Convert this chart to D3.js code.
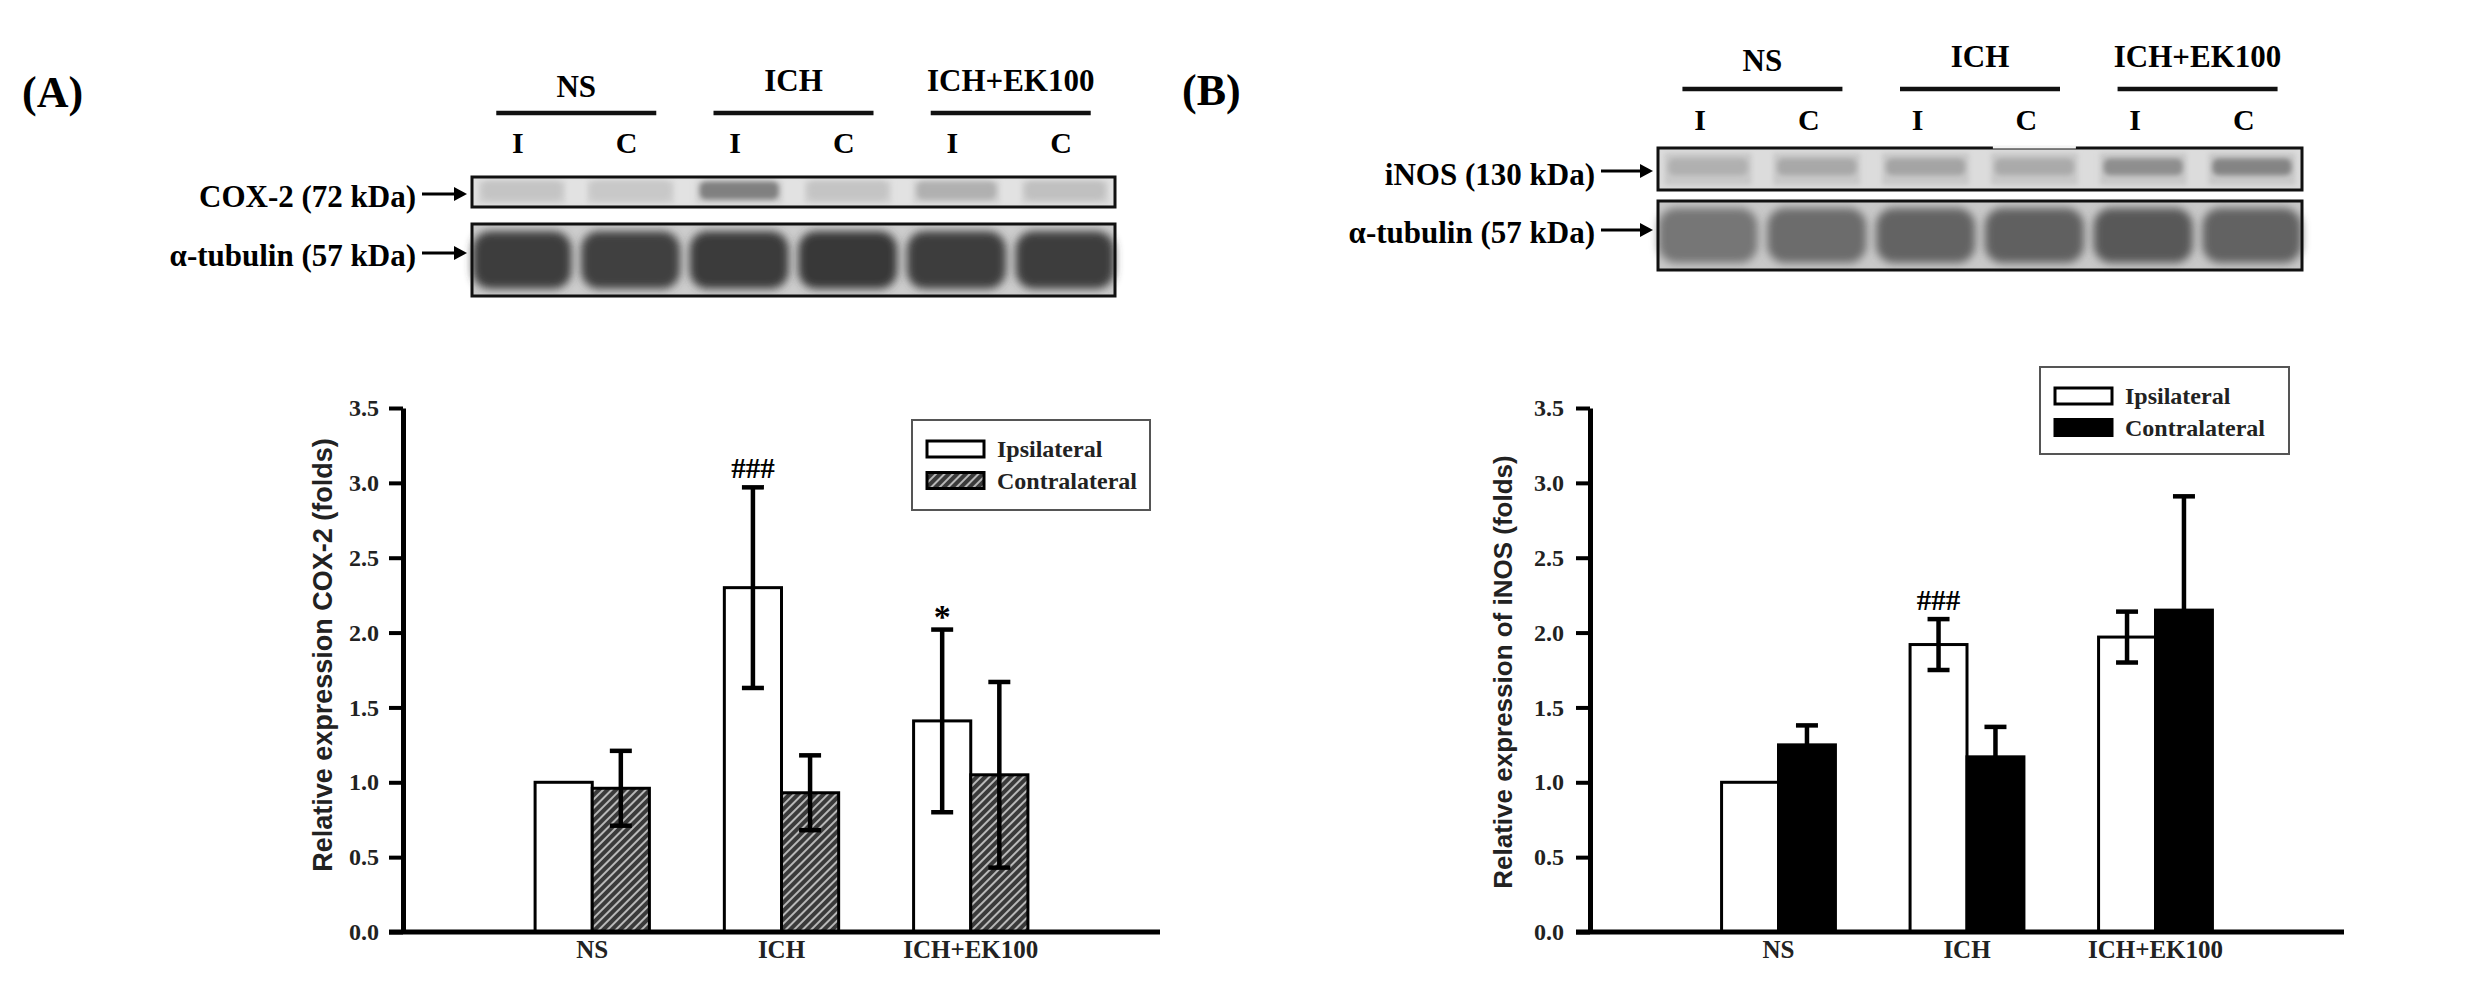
<!DOCTYPE html>
<html><head><meta charset="utf-8">
<script src="https://cdn.jsdelivr.net/npm/d3@7"></script>
<style>html,body{margin:0;padding:0;background:#fff;} svg{display:block;}</style>
</head><body>
<script>
// ---------------- data ----------------
const categories = ["NS", "ICH", "ICH+EK100"];
const seriesNames = ["Ipsilateral", "Contralateral"];
const yTicks = [0, 0.5, 1.0, 1.5, 2.0, 2.5, 3.0, 3.5];

const cox2Ipsi = [1.00, 2.30, 1.41];
const cox2IpsiErr = [0.00, 0.67, 0.61];
const cox2Contra = [0.96, 0.93, 1.05];
const cox2ContraErr = [0.25, 0.25, 0.62];
const cox2Marks = ["", "###", "*"];

const inosIpsi = [1.00, 1.92, 1.97];
const inosIpsiErr = [0.00, 0.17, 0.17];
const inosContra = [1.25, 1.17, 2.15];
const inosContraErr = [0.13, 0.20, 0.76];
const inosMarks = ["", "###", ""];

const laneLabels = ["I", "C", "I", "C", "I", "C"];
const cox2BandGray = [196, 200, 128, 196, 176, 192];
const tubulinABandGray = [62, 64, 58, 56, 60, 62];
const inosBandGray = [176, 168, 164, 170, 142, 132];
const tubulinBBandGray = [118, 108, 100, 96, 88, 98];

// ---------------- setup ----------------
const W = 2481, H = 996;
const SERIF = "'Liberation Serif', 'Times New Roman', serif";
const SANS = "'Liberation Sans', Arial, sans-serif";
const svg = d3.select("body").append("svg").attr("width", W).attr("height", H)
  .style("background", "#fff");
const defs = svg.append("defs");
const pat = defs.append("pattern").attr("id", "hatch").attr("patternUnits", "userSpaceOnUse")
  .attr("width", 6).attr("height", 6).attr("patternTransform", "rotate(45)");
pat.append("rect").attr("width", 6).attr("height", 6).attr("fill", "#3a3a3a");
pat.append("rect").attr("x", 0).attr("width", 2).attr("height", 6).attr("fill", "#b8b8b8");
[["blurS", 2.5], ["blurM", 4], ["blurL", 6]].forEach(([id, s]) => {
  defs.append("filter").attr("id", id).attr("x", "-30%").attr("y", "-30%")
    .attr("width", "160%").attr("height", "160%")
    .append("feGaussianBlur").attr("stdDeviation", s);
});
const gray = v => `rgb(${v},${v},${v})`;

// ---------------- blots ----------------
function arrow(g, x1, x2, y) {
  g.append("line").attr("x1", x1).attr("x2", x2 - 10).attr("y1", y).attr("y2", y)
    .attr("stroke", "#000").attr("stroke-width", 3);
  g.append("path").attr("d", `M${x2},${y} L${x2 - 13},${y - 7} L${x2 - 13},${y + 7} Z`).attr("fill", "#000");
}

function drawBlotPanel(cfg) {
  const g = svg.append("g");
  const lanes = d3.scaleBand().domain(d3.range(laneLabels.length))
    .range([cfg.boxX, cfg.boxX + cfg.boxW]).paddingInner(0.2).paddingOuter(0.06);
  const lc = i => lanes(i) + lanes.bandwidth() / 2;

  // panel letter
  g.append("text").attr("x", cfg.letterX).attr("y", cfg.letterY).text(cfg.letter)
    .attr("font-family", SERIF).attr("font-weight", "bold").attr("font-size", 44);

  // group headers
  categories.forEach((c, k) => {
    const cx = (lc(2 * k) + lc(2 * k + 1)) / 2;
    g.append("text").attr("x", cx).attr("y", cfg.headY + (k === 0 ? cfg.nsDrop : 0)).text(c)
      .attr("text-anchor", "middle").attr("font-family", SERIF).attr("font-weight", "bold").attr("font-size", 31);
    g.append("line").attr("x1", cx - 80).attr("x2", cx + 80).attr("y1", cfg.lineY).attr("y2", cfg.lineY)
      .attr("stroke", "#111").attr("stroke-width", 4.5);
  });
  laneLabels.forEach((l, i) => {
    g.append("text").attr("x", lc(i) + cfg.labelShift).attr("y", cfg.icY).text(l)
      .attr("text-anchor", "middle").attr("font-family", SERIF).attr("font-weight", "bold").attr("font-size", 30);
  });

  // top blot (target protein)
  const t = cfg.top;
  g.append("rect").attr("x", cfg.boxX).attr("y", t.y).attr("width", cfg.boxW).attr("height", t.h).attr("fill", t.bg);
  g.append("g").selectAll("rect").data(t.grays).join("rect")
    .attr("x", (d, i) => lanes(i)).attr("y", t.y + t.h * 0.12)
    .attr("width", lanes.bandwidth()).attr("height", t.h * 0.76)
    .attr("fill", t.laneFill).attr("filter", "url(#blurS)");
  g.append("g").selectAll("rect").data(t.grays).join("rect")
    .attr("x", (d, i) => lanes(i) + 4).attr("y", t.y + t.h * t.bandTop)
    .attr("width", lanes.bandwidth() - 8).attr("height", t.h * t.bandH).attr("rx", 6)
    .attr("fill", d => gray(d)).attr("filter", "url(#blurS)");
  g.append("rect").attr("x", cfg.boxX).attr("y", t.y).attr("width", cfg.boxW).attr("height", t.h)
    .attr("fill", "none").attr("stroke", "#111").attr("stroke-width", 3);
  if (t.notch) {
    // small break in the top border of the membrane crop
    g.append("line").attr("x1", lanes(t.notch) + 2).attr("x2", lanes(t.notch) + lanes.bandwidth() - 2)
      .attr("y1", t.y - 1).attr("y2", t.y - 1).attr("stroke", "#f4f4f4").attr("stroke-width", 3);
  }

  // bottom blot (tubulin)
  const b = cfg.bot;
  g.append("rect").attr("x", cfg.boxX).attr("y", b.y).attr("width", cfg.boxW).attr("height", b.h).attr("fill", b.bg);
  g.append("g").selectAll("rect").data(b.grays).join("rect")
    .attr("x", (d, i) => lanes(i) - 6).attr("y", b.y + b.h * 0.1)
    .attr("width", lanes.bandwidth() + 12).attr("height", b.h * 0.8).attr("rx", 18)
    .attr("fill", d => gray(d)).attr("filter", "url(#blurM)");
  g.append("rect").attr("x", cfg.boxX).attr("y", b.y).attr("width", cfg.boxW).attr("height", b.h)
    .attr("fill", "none").attr("stroke", "#111").attr("stroke-width", 3);

  // row labels + arrows
  g.append("text").attr("x", cfg.labelRight).attr("y", t.labelY).text(t.label)
    .attr("text-anchor", "end").attr("font-family", SERIF).attr("font-weight", "bold").attr("font-size", 31);
  arrow(g, cfg.labelRight + 6, cfg.boxX - 5, t.arrowY);
  g.append("text").attr("x", cfg.labelRight).attr("y", b.labelY).text(b.label)
    .attr("text-anchor", "end").attr("font-family", SERIF).attr("font-weight", "bold").attr("font-size", 31);
  arrow(g, cfg.labelRight + 6, cfg.boxX - 5, b.arrowY);
}

drawBlotPanel({
  letter: "(A)", letterX: 22, letterY: 107,
  boxX: 472, boxW: 643, headY: 91, nsDrop: 6, lineY: 113, icY: 153, labelShift: -4,
  labelRight: 416,
  top: { y: 177, h: 30, bg: "#e2e2e2", laneFill: "#d0d0d0", grays: cox2BandGray,
         bandTop: 0.15, bandH: 0.6, label: "COX-2 (72 kDa)", labelY: 207, arrowY: 194 },
  bot: { y: 224, h: 72, bg: "#cdcdcd", grays: tubulinABandGray,
         label: "\u03b1-tubulin (57 kDa)", labelY: 266, arrowY: 253 }
});
drawBlotPanel({
  letter: "(B)", letterX: 1182, letterY: 105,
  boxX: 1658, boxW: 644, headY: 67, nsDrop: 4, lineY: 89, icY: 130, labelShift: -8,
  labelRight: 1595,
  top: { y: 148, h: 42, bg: "#dcdcdc", laneFill: "#c8c8c8", grays: inosBandGray, notch: 3,
         bandTop: 0.25, bandH: 0.4, label: "iNOS (130 kDa)", labelY: 185, arrowY: 171 },
  bot: { y: 201, h: 69, bg: "#c9c9c9", grays: tubulinBBandGray,
         label: "\u03b1-tubulin (57 kDa)", labelY: 243, arrowY: 230 }
});

// ---------------- bar charts ----------------
function drawChart(cfg) {
  const y = d3.scaleLinear().domain([0, 3.5]).range([932, 408]);
  const x = d3.scalePoint().domain(categories).range([cfg.x0, cfg.x1]).padding(1);
  const bw = x.step() * 0.302;
  const g = svg.append("g");
  const rows = categories.map((c, i) => ({
    c, ipsi: cfg.ipsi[i], ie: cfg.ipsiErr[i], contra: cfg.contra[i], ce: cfg.contraErr[i], mark: cfg.marks[i]
  }));

  g.append("g").selectAll("rect").data(rows).join("rect")
    .attr("x", d => x(d.c) - bw).attr("y", d => y(d.ipsi))
    .attr("width", bw).attr("height", d => y(0) - y(d.ipsi))
    .attr("fill", "#fff").attr("stroke", "#000").attr("stroke-width", 3);
  g.append("g").selectAll("rect").data(rows).join("rect")
    .attr("x", d => x(d.c)).attr("y", d => y(d.contra))
    .attr("width", bw).attr("height", d => y(0) - y(d.contra))
    .attr("fill", cfg.contraFill).attr("stroke", "#000").attr("stroke-width", 3);

  // error bars
  const eb = [];
  rows.forEach(d => {
    if (d.ie > 0) eb.push({ cx: x(d.c) - bw / 2, v: d.ipsi, e: d.ie });
    if (d.ce > 0) eb.push({ cx: x(d.c) + bw / 2, v: d.contra, e: d.ce });
  });
  const eg = g.append("g").attr("stroke", "#000").attr("stroke-width", 4.5);
  eg.selectAll(".v").data(eb).join("line")
    .attr("x1", d => d.cx).attr("x2", d => d.cx).attr("y1", d => y(d.v - d.e)).attr("y2", d => y(d.v + d.e));
  eg.selectAll(".t").data(eb).join("line")
    .attr("x1", d => d.cx - 11).attr("x2", d => d.cx + 11).attr("y1", d => y(d.v + d.e)).attr("y2", d => y(d.v + d.e));
  eg.selectAll(".b").data(eb).join("line")
    .attr("x1", d => d.cx - 11).attr("x2", d => d.cx + 11).attr("y1", d => y(d.v - d.e)).attr("y2", d => y(d.v - d.e));

  // significance marks
  rows.filter(d => d.mark).forEach(d => {
    const cy = y(d.ipsi + d.ie) - 19;
    const star = d.mark === "*";
    g.append("text").attr("x", x(d.c) - bw / 2).attr("y", cy + (star ? 17 : 10)).text(d.mark)
      .attr("text-anchor", "middle").attr("font-family", SERIF).attr("font-weight", "bold")
      .attr("font-size", star ? 34 : 29);
  });

  // y axis
  const ya = g.append("g").attr("transform", `translate(${cfg.x0},0)`)
    .call(d3.axisLeft(y).tickValues(yTicks).tickFormat(d3.format(".1f"))
      .tickSize(14).tickSizeOuter(0).tickPadding(cfg.tickPad));
  ya.select(".domain").attr("stroke", "#000").attr("stroke-width", 5);
  ya.selectAll(".tick line").attr("stroke", "#000").attr("stroke-width", 4);
  ya.selectAll(".tick text").attr("font-family", SERIF).attr("font-weight", "bold")
    .attr("font-size", 24).attr("fill", "#222");

  // x axis
  g.append("line").attr("x1", cfg.x0 - 14).attr("x2", cfg.x1).attr("y1", y(0)).attr("y2", y(0))
    .attr("stroke", "#000").attr("stroke-width", 5);
  g.selectAll(".cat").data(categories).join("text")
    .attr("x", d => x(d)).attr("y", 958).text(d => d)
    .attr("text-anchor", "middle").attr("font-family", SERIF).attr("font-weight", "bold")
    .attr("font-size", 25).attr("fill", "#222");

  // y title
  g.append("text").attr("transform", `translate(${cfg.titleX},${cfg.titleY}) rotate(-90)`)
    .attr("text-anchor", "middle").attr("dominant-baseline", "central").text(cfg.title)
    .attr("font-family", SANS).attr("font-weight", "bold").attr("font-size", cfg.titleSize).attr("fill", "#222");

  // legend
  const L = cfg.legend;
  const lg = g.append("g");
  lg.append("rect").attr("x", L.x).attr("y", L.y).attr("width", L.w).attr("height", L.h)
    .attr("fill", "#fff").attr("stroke", "#555").attr("stroke-width", 2);
  seriesNames.forEach((s, i) => {
    const cy = L.y + 29 + i * 31.5;
    lg.append("rect").attr("x", L.x + 15).attr("y", cy - 8).attr("width", 57).attr("height", 16)
      .attr("fill", i === 0 ? "#fff" : cfg.contraFill).attr("stroke", "#000").attr("stroke-width", 3);
    lg.append("text").attr("x", L.x + 85).attr("y", cy + 8).text(s)
      .attr("font-family", SERIF).attr("font-weight", "bold").attr("font-size", 24).attr("fill", "#222");
  });
}

drawChart({
  x0: 403, x1: 1160, tickPad: 10,
  ipsi: cox2Ipsi, ipsiErr: cox2IpsiErr, contra: cox2Contra, contraErr: cox2ContraErr, marks: cox2Marks,
  contraFill: "url(#hatch)",
  title: "Relative expression COX-2 (folds)", titleX: 323, titleY: 655, titleSize: 27,
  legend: { x: 912, y: 420, w: 238, h: 90 }
});
drawChart({
  x0: 1590, x1: 2344, tickPad: 12,
  ipsi: inosIpsi, ipsiErr: inosIpsiErr, contra: inosContra, contraErr: inosContraErr, marks: inosMarks,
  contraFill: "#000",
  title: "Relative expression of iNOS (folds)", titleX: 1503, titleY: 672, titleSize: 26,
  legend: { x: 2040, y: 367, w: 249, h: 87 }
});
</script>
</body></html>
